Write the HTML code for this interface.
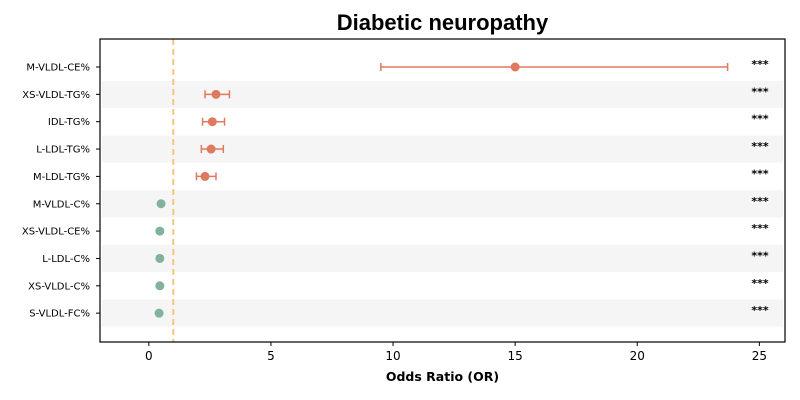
<!DOCTYPE html><html><head><meta charset="utf-8"><style>body{margin:0;background:#fff}svg{display:block;font-family:"DejaVu Sans","Liberation Sans",sans-serif}</style></head><body>
<svg id="c" width="800" height="400"></svg>
<script>
const labels=["M-VLDL-CE%","XS-VLDL-TG%","IDL-TG%","L-LDL-TG%","M-LDL-TG%","M-VLDL-C%","XS-VLDL-CE%","L-LDL-C%","XS-VLDL-C%","S-VLDL-FC%"];
const orValues=[15,2.75,2.6,2.55,2.3,0.5,0.45,0.45,0.45,0.42];
const ciLow=[9.5,2.3,2.2,2.15,1.95,null,null,null,null,null];
const ciHigh=[23.7,3.3,3.1,3.05,2.75,null,null,null,null,null];
const sig=["***","***","***","***","***","***","***","***","***","***"];
const xTicks=[0,5,10,15,20,25];
const refLine=1;
const L=100,R=785,T=39,B=342,xmin=-2,xmax=26.05;
const X=v=>L+(v-xmin)/(xmax-xmin)*(R-L);
const Y=i=>67+i*27.35;
const svg=document.getElementById('c');const NS='http://www.w3.org/2000/svg';
function mk(t,a,txt){const e=document.createElementNS(NS,t);for(const k in a)e.setAttribute(k,a[k]);if(txt!=null)e.textContent=txt;svg.appendChild(e);return e;}
labels.forEach((l,i)=>{if(i%2==1){const r=mk('rect',{x:L+2,y:Y(i)-13.5,width:R-L-4,height:27,fill:'#f5f5f5'});

}});
const rl=mk('line',{x1:X(refLine),x2:X(refLine),y1:T,y2:B,stroke:'#f5c77e','stroke-width':2,'stroke-dasharray':'6,4'});


labels.forEach((l,i)=>{const y=Y(i);
const t=mk('text',{x:L-10,y:y+3.5,'text-anchor':'end','font-size':10,fill:'#000'},l);


mk('line',{x1:L-4,x2:L,y1:y,y2:y,stroke:'#000','stroke-width':1});
const red=orValues[i]>1,col=red?'#e07a5f':'#81b29a';
if(ciLow[i]!=null){const g=mk('path',{d:`M${X(ciLow[i])},${y}H${X(ciHigh[i])}M${X(ciLow[i])},${y-4}v8M${X(ciHigh[i])},${y-4}v8`,stroke:col,'stroke-width':1.5,fill:'none'});

}
const c=mk('circle',{cx:X(orValues[i]),cy:y,r:4.5,fill:col});


const s=mk('text',{x:760,y:y+1,'text-anchor':'middle','font-size':11,'font-weight':'bold'},sig[i]);

});
xTicks.forEach(v=>{mk('line',{x1:X(v),x2:X(v),y1:B,y2:B+4,stroke:'#000'});
const t=mk('text',{x:X(v),y:B+18,'text-anchor':'middle','font-size':12},v);

});
const f=mk('rect',{x:L,y:T,width:R-L,height:B-T,fill:'none',stroke:'#000','stroke-width':1.2});


const xt=mk('text',{x:(L+R)/2,y:381,'text-anchor':'middle','font-size':12.5,'font-weight':'bold'},'Odds Ratio (OR)');


const tt=mk('text',{x:(L+R)/2,y:30,'text-anchor':'middle','font-size':22,'font-weight':'bold','font-family':'Liberation Sans, sans-serif'},'Diabetic neuropathy');


</script></body></html>
